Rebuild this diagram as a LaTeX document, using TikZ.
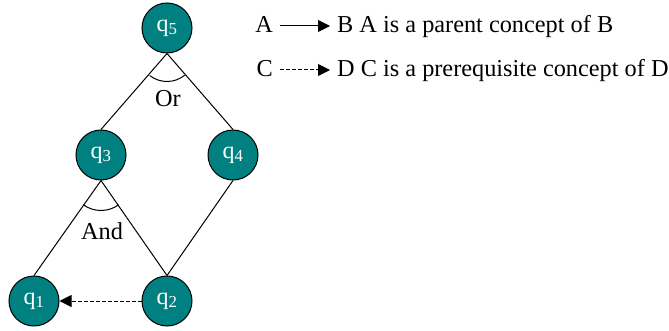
\documentclass[tikz,border=0pt]{standalone}
\usepackage{fontspec}
\setmainfont{Liberation Serif}
\usepackage{tikz}
\usetikzlibrary{arrows.meta,positioning,calc}

\definecolor{conceptteal}{RGB}{0,128,128}

\tikzset{
 concept/.style={circle, draw=black, line width=1pt, fill=conceptteal,
   text=white, minimum size=50pt, inner sep=0pt, font=\fontsize{24}{28}\selectfont},
 edge/.style={line width=1pt},
 prereq/.style={line width=1pt, dash pattern=on 3.5pt off 2.5pt, -{Triangle[length=12pt,width=12pt]}},
 parent/.style={line width=1pt, -{Triangle[length=12pt,width=12pt]}},
 lbl/.style={font=\fontsize{24.3}{28}\selectfont, inner sep=7pt}
}

\begin{document}
\begin{tikzpicture}[x=1pt, y=-1pt]
\useasboundingbox (0,0) rectangle (669,331);

% concept nodes
\node[concept] (q5) at (167, 28) {q\textsubscript{5}};
\node[concept] (q3) at (101, 155) {q\textsubscript{3}};
\node[concept] (q4) at (233, 155) {q\textsubscript{4}};
\node[concept] (q1) at (34, 301) {q\textsubscript{1}};
\node[concept] (q2) at (167, 301) {q\textsubscript{2}};

% tree edges
\draw[edge] (q5.south) -- (q3.north);
\draw[edge] (q5.south) -- (q4.north);
\draw[edge] (q3.south) -- (q1.north);
\draw[edge] (q3.south) -- (q2.north);
\draw[edge] (q4.south) -- (q2.north);

% or / and arcs (y axis points down)
\draw[edge] ([shift={(51:28)}]q5.south) arc[start angle=51, end angle=128, radius=28];
\node[lbl] (or) at (168, 99) {Or};
\draw[edge] ([shift={(54:30)}]q3.south) arc[start angle=54, end angle=126, radius=30];
\node[lbl] (and) at (102, 231) {And};

\draw[prereq] (q2.west) -- (q1.east);

% legend
\node[lbl, anchor=base east] (a) at (280, 33) {A};
\node[lbl, anchor=base west] (b) at (330, 33) {B A is a parent concept of B};
\draw[parent] ([yshift=7pt]a.base east) -- ([yshift=7pt]b.base west);

\node[lbl, anchor=base east] (c) at (280, 77) {C};
\node[lbl, anchor=base west] (d) at (330, 77) {D C is a prerequisite concept of D};
\draw[prereq] ([yshift=7pt]c.base east) -- ([yshift=7pt]d.base west);
\end{tikzpicture}
\end{document}
